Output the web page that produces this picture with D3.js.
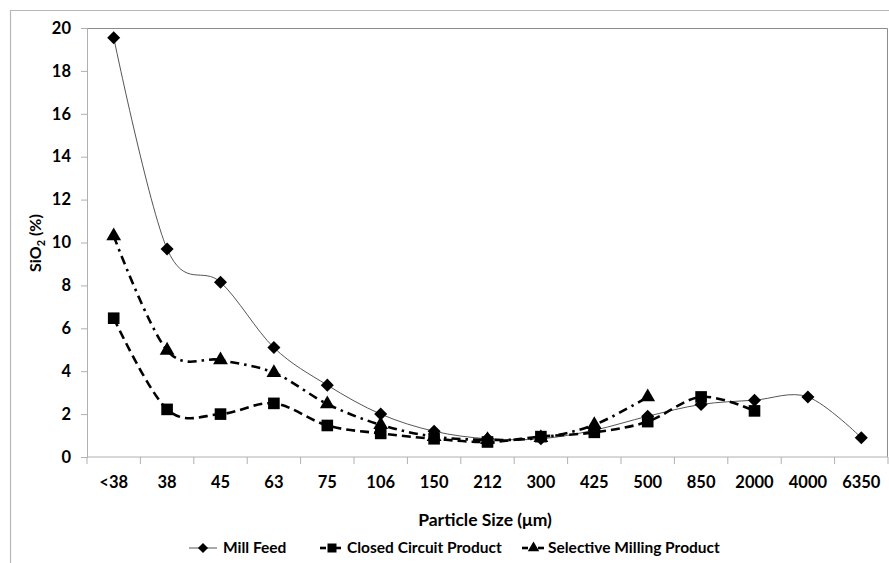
<!DOCTYPE html>
<html>
<head>
<meta charset="utf-8">
<script src="https://cdn.jsdelivr.net/npm/d3@7/dist/d3.min.js"></script>
<style>
  body { margin: 0; background: #fff; }
  svg text { font-family: Lato, "Open Sans", sans-serif; font-weight: bold; fill: #000; }
</style>
</head>
<body>
<svg id="chart" width="889" height="563"></svg>
<script>
// categories and series (SiO2 %)
var sizes = ['<38', '38', '45', '63', '75', '106', '150', '212', '300', '425', '500', '850', '2000', '4000', '6350'];
var millFeed = [19.55, 9.7, 8.15, 5.1, 3.35, 2.0, 1.2, 0.85, 0.85, 1.25, 1.9, 2.45, 2.65, 2.8, 0.9];
var closedCircuit = [6.47, 2.22, 2.0, 2.5, 1.47, 1.1, 0.85, 0.7, 0.95, 1.15, 1.65, 2.8, 2.15];
var selectiveMilling = [10.3, 4.97, 4.52, 3.93, 2.47, 1.5, 0.95, 0.8, 0.9, 1.5, 2.8];
var yTicks = [0, 2, 4, 6, 8, 10, 12, 14, 16, 18, 20];

var svg = d3.select('#chart');
var plotLeft = 87, plotRight = 888, plotTop = 28, plotBottom = 457;

// outer chart frame (cropped at right and bottom)
svg.append('path')
    .attr('d', 'M10.5,570V10.5H900')
    .attr('fill', 'none')
    .attr('stroke', '#b8b8b8')
    .attr('stroke-width', 1.2);

var x = d3.scaleBand().domain(sizes).range([plotLeft, plotRight]);
var y = d3.scaleLinear().domain([0, 20]).range([plotBottom, plotTop]);

// plot area border (top & right)
svg.append('path')
    .attr('d', 'M' + plotLeft + ',' + (plotTop + 0.5) + 'H' + (plotRight - 0.5) + 'V' + plotBottom)
    .attr('fill', 'none')
    .attr('stroke', '#8c8c8c')
    .attr('stroke-width', 1);

var yAxis = svg.append('g')
    .attr('transform', 'translate(' + plotLeft + ',0)')
    .call(d3.axisLeft(y).tickValues(yTicks).tickSize(6).tickPadding(10));
yAxis.select('.domain').attr('stroke', '#b0b0b0');
yAxis.selectAll('.tick line').attr('stroke', '#b0b0b0');
yAxis.selectAll('.tick text').style('font-size', '16.5px');

var xAxis = svg.append('g')
    .attr('transform', 'translate(0,' + plotBottom + ')')
    .call(d3.axisBottom(x).tickSize(0).tickPadding(19));
xAxis.select('.domain').attr('stroke', '#b0b0b0').attr('d', 'M' + plotLeft + ',0H' + plotRight);
xAxis.selectAll('.tick text').style('font-size', '16.5px');
// tick marks on band boundaries
xAxis.selectAll('line.bound')
    .data(sizes.concat(['end']))
  .enter().append('line')
    .attr('class', 'bound')
    .attr('x1', function(d, i) { return plotLeft + i * x.step(); })
    .attr('x2', function(d, i) { return plotLeft + i * x.step(); })
    .attr('y1', 0).attr('y2', 7)
    .attr('stroke', '#b0b0b0');

// axis titles
var yTitle = svg.append('text')
    .attr('transform', 'translate(41,243) rotate(-90)')
    .attr('text-anchor', 'middle')
    .style('font-size', '16px');
yTitle.append('tspan').text('SiO');
yTitle.append('tspan').text('2').attr('dy', 4).style('font-size', '11px');
yTitle.append('tspan').text(' (%)').attr('dy', -4);

svg.append('text')
    .attr('x', 485).attr('y', 526)
    .attr('text-anchor', 'middle')
    .style('font-size', '17.5px')
    .text('Particle Size (\u03bcm)');

var series = [
  { name: 'Mill Feed', values: millFeed, symbol: d3.symbolSquare, rotate: 45, size: 85, stroke: '#555', width: 1, dash: null },
  { name: 'Closed Circuit Product', values: closedCircuit, symbol: d3.symbolSquare, rotate: 0, size: 135, stroke: '#000', width: 2.6, dash: '9,5' },
  { name: 'Selective Milling Product', values: selectiveMilling, symbol: d3.symbolTriangle, rotate: 0, size: 95, stroke: '#000', width: 2.6, dash: '9,5,2.5,5' }
];

var line = d3.line()
    .x(function(d, i) { return x(sizes[i]) + x.bandwidth() / 2; })
    .y(function(d) { return y(d); })
    .curve(d3.curveCatmullRom.alpha(0));

series.forEach(function(s) {
  svg.append('path')
      .datum(s.values)
      .attr('d', line)
      .attr('fill', 'none')
      .attr('stroke', s.stroke)
      .attr('stroke-width', s.width)
      .attr('stroke-dasharray', s.dash);
});

series.forEach(function(s) {
  svg.selectAll(null)
      .data(s.values)
    .enter().append('path')
      .attr('d', d3.symbol().type(s.symbol).size(s.size))
      .attr('transform', function(d, i) {
        return 'translate(' + (x(sizes[i]) + x.bandwidth() / 2) + ',' + y(d) + ') rotate(' + s.rotate + ')';
      })
      .attr('fill', '#000');
});

// legend
var legendItems = [
  { s: series[0], x0: 189, x1: 217, mark: 203, text: 223, stub: 0 },
  { s: series[1], x0: 320, x1: 341, mark: 332, text: 347, stub: 6 },
  { s: series[2], x0: 522, x1: 544, mark: 533.5, text: 548, stub: 6 }
];
var legendY = 548;
legendItems.forEach(function(it) {
  var s = it.s;
  var g = svg.append('g');
  if (s.dash) {
    g.append('line').attr('x1', it.x0).attr('x2', it.x0 + it.stub)
        .attr('y1', legendY).attr('y2', legendY)
        .attr('stroke', '#000').attr('stroke-width', 2.6);
    g.append('line').attr('x1', it.x1 - it.stub).attr('x2', it.x1)
        .attr('y1', legendY).attr('y2', legendY)
        .attr('stroke', '#000').attr('stroke-width', 2.6);
  } else {
    g.append('line').attr('x1', it.x0).attr('x2', it.x1)
        .attr('y1', legendY).attr('y2', legendY)
        .attr('stroke', s.stroke).attr('stroke-width', 1);
  }
  g.append('path')
      .attr('d', d3.symbol().type(s.symbol).size(s.size * 0.6))
      .attr('transform', 'translate(' + it.mark + ',' + legendY + ') rotate(' + s.rotate + ')')
      .attr('fill', '#000');
  g.append('text')
      .attr('x', it.text).attr('y', legendY + 5)
      .style('font-size', '15.5px')
      .text(s.name);
});
</script>
</body>
</html>
